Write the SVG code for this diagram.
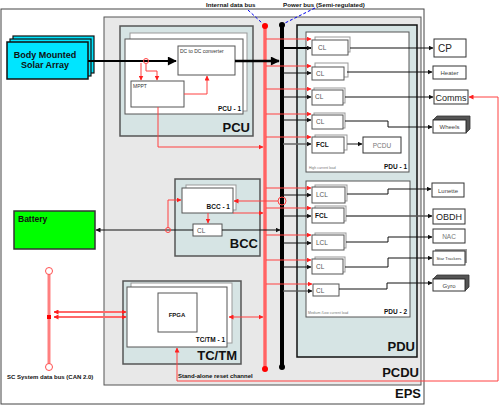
<svg xmlns="http://www.w3.org/2000/svg" width="500" height="405" viewBox="0 0 500 405">
<style>
text{font-family:"Liberation Sans",Arial,sans-serif}
.b{font-weight:bold}
.frame{fill:#fff;stroke:#444;stroke-width:1}
.teal{fill:#d6e4e4;stroke:#555;stroke-width:1.5}
.wb{fill:#fff;stroke:#555;stroke-width:1}
.bk{fill:#fff;stroke:#999;stroke-width:1}
.tgt{fill:#fff;stroke:#333;stroke-width:1}
.big{font-size:13px;font-weight:bold;fill:#111;text-anchor:end}
.sub{font-size:6.5px;font-weight:bold;fill:#111;text-anchor:end}
.cl{font-size:6.5px;fill:#555}
.r{fill:none;stroke:#ff4040;stroke-width:1}
.k{fill:none;stroke:#111;stroke-width:1}
</style>
<defs>
<marker id="ar" viewBox="0 0 10 10" refX="9" refY="5" markerWidth="5" markerHeight="5" markerUnits="userSpaceOnUse" orient="auto-start-reverse"><path d="M0,0L10,5L0,10z" fill="#ff2020"/></marker>
<marker id="ak" viewBox="0 0 10 10" refX="9" refY="5" markerWidth="5" markerHeight="5" markerUnits="userSpaceOnUse" orient="auto-start-reverse"><path d="M0,0L10,5L0,10z" fill="#111"/></marker>
<marker id="aK" viewBox="0 0 10 10" refX="9" refY="5" markerWidth="10" markerHeight="9" markerUnits="userSpaceOnUse" orient="auto"><path d="M0,0L10,5L0,10z" fill="#000"/></marker>
</defs>

<g id="eps"><rect class="frame" x="1" y="9" width="423" height="395"/><text class="big" x="421" y="398">EPS</text></g>
<g id="pcdu"><rect x="104" y="17" width="317" height="368" fill="#e8e8e8" stroke="#555"/><text class="big" x="419" y="377">PCDU</text></g>

<g id="pdu"><rect x="297" y="25" width="120" height="332" fill="#d6e4e4" stroke="#111" stroke-width="1.5"/><text class="big" x="415" y="351">PDU</text></g>
<g id="pdu1"><rect class="wb" x="306" y="32" width="103" height="140"/><text class="sub" x="407" y="169">PDU - 1</text><text x="309" y="169" font-size="3.5" fill="#777">High current load</text></g>
<g id="pdu2"><rect class="wb" x="306" y="181" width="104" height="136"/><text class="sub" x="407" y="314">PDU - 2</text><text x="308" y="314" font-size="3.5" fill="#777">Medium /Low current load</text></g>

<g id="pcu"><rect class="teal" x="120" y="26" width="133" height="110"/><text class="big" x="250" y="132">PCU</text></g>
<g id="pcu1"><rect class="bk" x="130" y="33" width="117" height="78"/><rect class="wb" x="125" y="39" width="118" height="75"/><text class="sub" x="241" y="111">PCU - 1</text></g>
<g id="dcdc"><rect class="wb" x="178" y="46" width="57" height="29"/><text x="180" y="53" font-size="5" fill="#333">DC to DC converter</text></g>
<g id="mppt"><rect class="wb" x="131" y="81" width="53" height="26"/><text x="133" y="88" font-size="5" fill="#333">MPPT</text></g>

<g id="solar"><rect x="13" y="36" width="81" height="37" fill="#00e5ff" stroke="#111" stroke-width="1.2"/><rect x="10" y="39" width="81" height="37" fill="#00e5ff" stroke="#111" stroke-width="1.2"/><rect x="7" y="42" width="81" height="37" fill="#00e5ff" stroke="#111" stroke-width="1.5"/><text class="b" x="45" y="58" font-size="9" text-anchor="middle" fill="#111">Body Mounted</text><text class="b" x="45" y="68" font-size="9" text-anchor="middle" fill="#111">Solar Array</text></g>

<g id="battery"><rect x="14" y="211" width="81" height="38" fill="#00ff00" stroke="#333" stroke-width="1.5"/><text class="b" x="18" y="222" font-size="8.5" fill="#111">Battery</text></g>

<g id="bcc"><rect class="teal" x="175" y="179" width="85" height="77"/><text class="big" x="258" y="248">BCC</text></g>
<g id="bcc1"><rect class="bk" x="186" y="185" width="50" height="25"/><rect class="wb" x="182" y="188" width="51" height="25"/><text class="sub" x="230" y="209" font-size="6">BCC - 1</text></g>
<g id="bcccl"><rect class="wb" x="193" y="224" width="29" height="12"/><text class="cl" x="197" y="233">CL</text></g>

<g id="tctm"><rect class="teal" x="123" y="281" width="118" height="83"/><text class="big" x="237" y="360">TC/TM</text></g>
<g id="tctm1"><rect class="bk" x="131" y="283" width="101" height="60"/><rect class="wb" x="127" y="287" width="100" height="60"/><text class="sub" x="225" y="342" font-size="6">TC/TM - 1</text></g>
<g id="fpga"><rect class="wb" x="158" y="293" width="39" height="39"/><text class="b" x="177" y="317" font-size="6" text-anchor="middle" fill="#111">FPGA</text></g>

<g id="sc-bus"><line x1="49" y1="274" x2="49" y2="364" stroke="#ff8080" stroke-width="3"/><circle cx="49" cy="271" r="3.5" fill="#fff" stroke="#ff5050"/><circle cx="49" cy="367" r="3.5" fill="#fff" stroke="#ff5050"/><rect x="47" y="315" width="4" height="4" fill="#f00"/><text class="b" x="7" y="379" font-size="6" fill="#111">SC System data bus (CAN 2.0)</text></g>

<g id="data-bus"><line x1="265" y1="26" x2="265" y2="369" stroke="#ff8a8a" stroke-width="4"/><line x1="265" y1="26" x2="265" y2="369" stroke="#ff4040" stroke-width="1"/><circle cx="265" cy="26" r="3" fill="#f00"/><circle cx="265" cy="369" r="3" fill="#f00"/><text class="b" x="206" y="7" font-size="6.2" fill="#111">Internal data bus</text></g>
<g id="power-bus"><line x1="282" y1="25" x2="282" y2="367" stroke="#000" stroke-width="4"/><circle cx="282" cy="25" r="3" fill="#000"/><circle cx="282" cy="367" r="3" fill="#000"/><text class="b" x="283" y="7" font-size="6.2" fill="#111">Power bus (Semi-regulated)</text></g>

<g id="pdu-switches">
<rect class="bk" x="315" y="37" width="35" height="15"/><rect class="wb" x="312" y="40" width="36" height="15"/><text class="cl" x="318" y="50">CL</text>
<rect class="bk" x="315" y="63" width="33" height="14"/><rect class="wb" x="312" y="67" width="32" height="13"/><text class="cl" x="316" y="76">CL</text>
<rect class="bk" x="314" y="88" width="31" height="15"/><rect class="wb" x="312" y="90" width="31" height="15"/><text class="cl" x="315" y="99">CL</text>
<rect class="bk" x="314" y="113" width="31" height="15"/><rect class="wb" x="312" y="115" width="31" height="14"/><text class="cl" x="316" y="124">CL</text>
<rect class="bk" x="315" y="135" width="32" height="15"/><rect class="wb" x="312" y="137" width="32" height="16"/><text class="b" x="316" y="147" font-size="6.5" fill="#111">FCL</text>
<rect class="bk" x="315" y="185" width="32" height="16"/><rect class="wb" x="312" y="187" width="33" height="16"/><text class="cl" x="316" y="197">LCL</text>
<rect class="bk" x="315" y="206" width="31" height="15"/><rect class="wb" x="312" y="208" width="32" height="15"/><text class="b" x="315" y="218" font-size="6.5" fill="#111">FCL</text>
<rect class="bk" x="315" y="233" width="31" height="15"/><rect class="wb" x="312" y="235" width="32" height="15"/><text class="cl" x="316" y="245">LCL</text>
<rect class="bk" x="315" y="257" width="30" height="15"/><rect class="wb" x="312" y="259" width="31" height="15"/><text class="cl" x="316" y="269">CL</text>
<rect class="wb" x="313" y="284" width="26" height="12"/><text class="cl" x="316" y="293">CL</text>
</g>

<g id="cp"><rect class="tgt" x="434" y="39" width="32" height="18"/><text x="438" y="52" font-size="10" fill="#222">CP</text></g>
<g id="heater"><rect class="tgt" x="433" y="66" width="33" height="13"/><text x="449.5" y="75" font-size="6" fill="#444" text-anchor="middle">Heater</text></g>
<g id="comms"><rect class="tgt" x="434" y="90" width="34" height="14"/><text x="451" y="101" font-size="9" fill="#222" text-anchor="middle">Comms</text></g>
<g id="wheels"><polygon points="433,120 437,116 470,116 470,129 466,133 466,120" fill="#555" stroke="#333" stroke-width="0.8"/><rect class="tgt" x="433" y="120" width="33" height="13"/><text x="449.5" y="129" font-size="6" fill="#444" text-anchor="middle">Wheels</text></g>
<g id="pcdu-load"><rect class="tgt" x="363" y="137" width="38" height="16"/><text x="382" y="147.5" font-size="6.5" fill="#777" text-anchor="middle">PCDU</text></g>
<g id="lunette"><rect class="tgt" x="432" y="183" width="32" height="14"/><text x="448" y="192.5" font-size="6" fill="#444" text-anchor="middle">Lunette</text></g>
<g id="obdh"><rect class="tgt" x="433" y="209" width="32" height="15"/><text x="449" y="220" font-size="9" fill="#222" text-anchor="middle">OBDH</text></g>
<g id="nac"><rect class="tgt" x="433" y="229" width="32" height="14"/><text x="449" y="238.5" font-size="6.5" fill="#777" text-anchor="middle">NAC</text></g>
<g id="star-trackers"><rect x="435" y="249" width="32" height="14" fill="#999"/><rect class="tgt" x="433" y="251" width="32" height="14"/><text x="449" y="259.5" font-size="4.2" fill="#333" text-anchor="middle">Star Trackers</text></g>
<g id="gyro"><polygon points="433,279 437,275 469,275 469,287 465,291 465,279" fill="#555" stroke="#333" stroke-width="0.8"/><rect class="tgt" x="433" y="279" width="32" height="12"/><text x="449" y="287.5" font-size="6" fill="#444" text-anchor="middle">Gyro</text></g>

<g id="connectors">
<path d="M248,10L262,23M315,8L285,23" stroke="#0000ee" stroke-width="1" stroke-dasharray="3,2" fill="none"/>
<path d="M88,61H176" stroke="#000" stroke-width="2" fill="none" marker-end="url(#aK)"/>
<path d="M235,61H279" stroke="#000" stroke-width="2.5" fill="none" marker-end="url(#aK)"/>
<circle cx="146" cy="61" r="2.5" fill="none" stroke="#ff4040"/>
<path class="r" d="M141,63V80" marker-end="url(#ar)"/>
<path class="r" d="M146,64V71H157V80" marker-end="url(#ar)"/>
<path class="r" d="M184,94H207V76" marker-end="url(#ar)"/>
<path class="r" d="M158,107V147H263" marker-end="url(#ar)"/>

<path class="r" d="M266,39H311" marker-end="url(#ar)"/>
<path class="r" d="M266,66H311" marker-end="url(#ar)"/>
<path class="r" d="M266,89H311" marker-end="url(#ar)"/>
<path class="r" d="M266,114H311" marker-end="url(#ar)"/>
<path class="r" d="M266,137H311" marker-end="url(#ar)"/>
<path class="r" d="M266,188H311" marker-end="url(#ar)"/>
<path class="r" d="M266,208H311" marker-end="url(#ar)"/>
<path class="r" d="M266,235H311" marker-end="url(#ar)"/>
<path class="r" d="M266,260H311" marker-end="url(#ar)"/>
<path class="r" d="M266,284H312" marker-end="url(#ar)"/>

<path d="M283,48H311" stroke="#000" stroke-width="2" fill="none" marker-end="url(#ak)"/>
<path class="k" d="M283,73H311" marker-end="url(#ak)"/>
<path class="k" d="M283,97H311" marker-end="url(#ak)"/>
<path class="k" d="M283,120H311" marker-end="url(#ak)"/>
<path d="M283,144H311" stroke="#666" stroke-width="1.5" fill="none" marker-end="url(#ak)"/>
<path class="k" d="M283,195H311" marker-end="url(#ak)"/>
<path class="k" d="M283,216H311" marker-end="url(#ak)"/>
<path class="k" d="M283,243H311" marker-end="url(#ak)"/>
<path class="k" d="M283,267H311" marker-end="url(#ak)"/>
<path d="M283,291H312" stroke="#555" stroke-width="1.3" fill="none" marker-end="url(#ak)"/>

<path d="M350,48H433" stroke="#111" stroke-width="1.2" fill="none" marker-end="url(#ak)"/>
<path class="k" d="M347,72H432" marker-end="url(#ak)"/>
<path class="k" d="M345,97H433" marker-end="url(#ak)"/>
<path class="k" d="M345,121H388V127H432" marker-end="url(#ak)"/>
<path d="M347,144H362" stroke="#666" stroke-width="1.5" fill="none" marker-end="url(#ak)"/>
<path class="k" d="M347,194H388V189H431" marker-end="url(#ak)"/>
<path d="M346,216H432" stroke="#555" stroke-width="1.3" fill="none" marker-end="url(#ak)"/>
<path class="k" d="M346,242H388V237H432" marker-end="url(#ak)"/>
<path class="k" d="M345,267H388V258H432" marker-end="url(#ak)"/>
<path class="k" d="M339,289H387V283H432" marker-end="url(#ak)"/>

<path class="r" d="M177,381H498V97H469" marker-end="url(#ar)"/>
<path class="r" d="M177,381V348" marker-end="url(#ar)"/>
<text class="b" x="178" y="378" font-size="6" fill="#111">Stand-alone reset channel</text>

<path class="k" d="M222,230H280" marker-end="url(#ak)"/>
<path class="k" d="M193,230H96" marker-end="url(#ak)"/>
<circle cx="168" cy="230" r="2.5" fill="none" stroke="#ff4040"/>
<path class="r" d="M168,228V200H181" marker-end="url(#ar)"/>
<path class="r" d="M208,213V223" marker-end="url(#ar)"/>
<circle cx="282" cy="201" r="4" fill="none" stroke="#ff4040"/>
<path class="r" d="M278,201H234" marker-end="url(#ar)"/>
<path class="r" d="M233,213H263" marker-end="url(#ar)"/>

<path d="M54,312H126M54,317H126" stroke="#ff9090" stroke-width="2" fill="none"/>
<path class="r" d="M54,312H126" marker-start="url(#ar)" marker-end="url(#ar)"/>
<path class="r" d="M54,317H126" marker-start="url(#ar)" marker-end="url(#ar)"/>
<path class="r" d="M229,317H263" marker-start="url(#ar)" marker-end="url(#ar)"/>
</g>
</svg>
